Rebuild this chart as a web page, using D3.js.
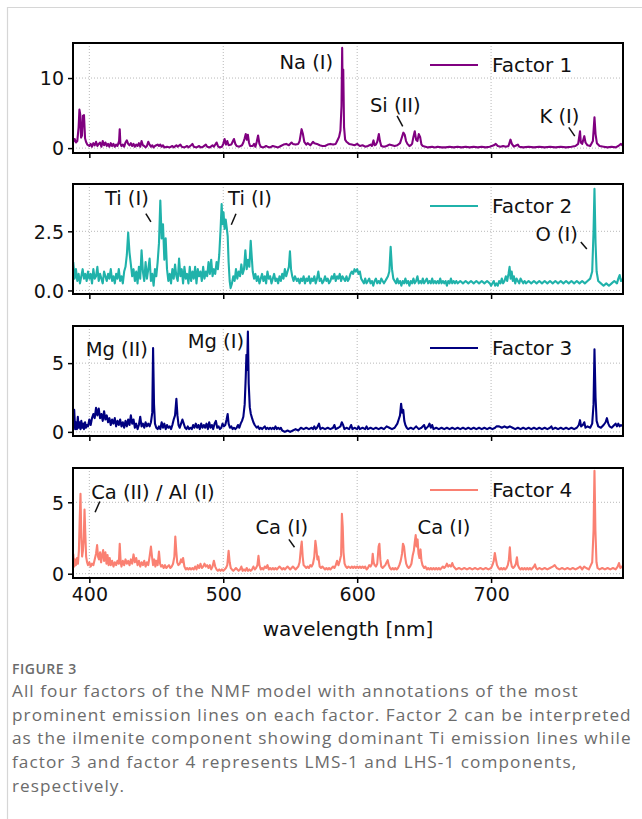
<!DOCTYPE html>
<html>
<head>
<meta charset="utf-8">
<title>NMF factors</title>
<script src="https://cdn.jsdelivr.net/npm/d3@7"></script>
<style>
  body { margin:0; background:#fff; }
  svg { display:block; }
  .tick text { font-family:"DejaVu Sans",sans-serif; font-size:19px; fill:#111; }
  .caption { font-family:"Open Sans",sans-serif; fill:#6b6b6b; }
</style>
</head>
<body>
<svg id="fig" width="642" height="819"></svg>
<script>
// wavelength range and tick marks (nm)
const wlRange = [387.8, 798.5];
const xTicks = [400, 500, 600, 700];

// factor spectra, [wavelength nm, intensity]
const factor1 = [[388,0.9],[389,1.3],[390,0.8],[391,1.0],[392,3.0],[392.6,5.5],[393.2,4.8],[393.8,1.5],[394.5,1.8],[395.2,4.6],[396,4.7],[396.8,1.4],[397.5,0.9],[398.5,0.5],[400,0.3],[401,0.6],[402,0.2],[403,0.7],[404,0.4],[405,0.9],[406,0.3],[407,0.6],[408,0.8],[409,0.2],[410,1.0],[411,0.4],[412,0.8],[413,0.3],[414,0.6],[415,0.2],[416,0.7],[417,0.3],[418,0.6],[419,0.2],[420,0.5],[421,0.3],[422.2,1.0],[422.7,2.7],[423.2,0.6],[424,0.3],[425,0.5],[426,0.2],[427,0.8],[428,1.1],[429,0.6],[430,0.4],[431,0.7],[432,0.3],[433,0.6],[434,0.2],[435,0.5],[436,0.3],[437,0.7],[438,0.2],[439,1.0],[440,0.4],[441,0.3],[442,0.1],[443,0.3],[444,0.9],[445,0.5],[446,0.2],[447,0.4],[448,0.1],[449,0.3],[450,0.4],[451,0.5],[452,0.3],[453,0.5],[454,0.2],[455,0.4],[456,0.1],[458,0.2],[460,0.1],[462,0.3],[463,0.1],[465,0.4],[466,0.2],[468,0.5],[469,0.2],[471,0.1],[473,0.3],[474,0.1],[476,0.4],[477,0.6],[478,0.2],[480,0.1],[482,0.3],[483,0.1],[485,0.2],[487,0.5],[488,0.2],[490,0.1],[492,0.4],[493,0.2],[495,0.8],[496,0.3],[497,0.1],[499,0.2],[500,0.6],[501,1.3],[502,0.5],[503,1.0],[504,0.4],[506,0.5],[507,0.9],[508,1.3],[509,0.6],[510,0.3],[512,0.2],[514,0.4],[515,0.8],[516,1.4],[516.8,2.0],[517.6,1.2],[518.4,1.9],[519.2,0.8],[520,0.3],[522,0.3],[523,0.6],[524,0.2],[525,0.9],[526,1.8],[527,0.6],[528,0.2],[530,0.1],[532,0.3],[533,0.2],[535,0.1],[537,0.3],[539,0.2],[541,0.1],[543,0.3],[545,0.5],[547,0.6],[549,0.4],[551,0.8],[552,0.6],[554,0.5],[556,0.6],[557,1.0],[558.5,2.7],[559.5,2.0],[560.5,0.9],[562,0.5],[563,0.7],[565,0.4],[567,0.9],[568,0.7],[570,0.6],[572,0.4],[574,0.3],[576,0.3],[578,0.5],[580,0.6],[582,0.5],[584,0.6],[585.5,1.2],[586.5,1.6],[587.5,2.5],[588.3,6],[588.8,14.3],[589.2,7],[589.6,11.2],[590.2,3],[591,1.2],[592,0.9],[594,0.6],[596,0.5],[598,0.4],[600,0.6],[602,0.3],[604,0.4],[606,0.2],[608,0.3],[610,0.5],[611,0.3],[612.2,1.1],[613,0.4],[614,0.5],[615,0.9],[616.2,2.0],[617,1.0],[618,0.3],[620,0.2],[622,0.3],[624,0.5],[626,0.4],[628,0.3],[630,0.4],[632,0.7],[633,1.3],[634.5,2.2],[635.5,1.9],[636.5,1.0],[637.5,0.6],[639,0.3],[640,0.4],[641,0.6],[642,1.6],[643,2.4],[644,1.2],[645,1.0],[646,2.0],[647,1.6],[648,0.5],[649,0.3],[651,0.2],[653,0.1],[656,0.2],[658,0.1],[660,0.2],[663,0.1],[666,0.1],[669,0.2],[672,0.1],[675,0.2],[678,0.1],[681,0.2],[684,0.1],[687,0.2],[690,0.1],[693,0.2],[696,0.1],[699,0.2],[702,0.4],[703.5,0.6],[705,0.3],[707,0.2],[709,0.3],[711,0.2],[713,0.3],[714.5,1.2],[715.5,0.6],[717,0.2],[719,0.4],[720,0.5],[721,0.2],[724,0.1],[728,0.2],[732,0.1],[736,0.2],[740,0.1],[744,0.2],[748,0.1],[752,0.2],[756,0.1],[760,0.2],[763,0.3],[765,0.6],[766.4,2.4],[767,0.8],[768,0.6],[769.6,1.7],[770.5,0.8],[772,0.4],[774,0.3],[776,1.0],[777.2,4.4],[778,2.0],[779,0.7],[781,0.3],[784,0.2],[787,0.1],[790,0.2],[793,0.1],[795,0.3],[797,0.6],[798.5,0.3]];

const factor2 = [[388,1.2],[389,0.5],[390,0.9],[391,0.4],[392,0.7],[393,0.3],[394,0.6],[395,0.9],[396,0.5],[397,0.7],[398,0.4],[399,0.8],[400,0.5],[401,0.7],[402,0.3],[403,0.9],[404,0.5],[405,0.6],[406,1.0],[407,0.4],[408,0.7],[409,0.5],[410,0.3],[411,0.8],[412,0.6],[413,0.4],[414,0.7],[415,0.5],[416,0.9],[417,0.4],[418,0.6],[419,0.3],[420,0.7],[421,0.5],[422,0.9],[423,0.4],[424,0.6],[425,0.3],[426,0.8],[427,1.0],[428,1.5],[429,2.45],[430,1.6],[431,1.1],[432,0.6],[433,0.9],[434,0.4],[435,0.8],[436,0.3],[437,1.0],[438,0.5],[439,1.7],[440,0.8],[441,0.4],[442,1.2],[443,0.5],[444,0.9],[445,1.35],[446,0.4],[447,0.7],[448,0.2],[449,0.9],[450,0.6],[451,1.2],[452,2.0],[453,3.8],[454,2.2],[455,2.8],[456,1.3],[457,2.2],[458,0.9],[459,0.4],[460,0.7],[461,0.3],[462,0.9],[463,0.5],[464,1.1],[465,0.6],[466,0.4],[467,1.35],[468,0.6],[469,0.9],[470,0.3],[471,1.0],[472,0.5],[473,0.7],[474,0.3],[475,1.0],[476,0.4],[477,0.8],[478,0.5],[479,1.0],[480,0.3],[481,0.9],[482,0.6],[483,0.8],[484,0.4],[485,1.0],[486,0.5],[487,0.8],[488,0.6],[489,1.2],[490,0.7],[491,1.3],[492,0.6],[493,0.9],[494,0.7],[495,1.2],[496,0.9],[497,1.5],[498,2.6],[498.8,3.65],[499.5,2.8],[500.2,3.3],[501,2.6],[501.8,3.0],[502.5,2.7],[503.3,2.3],[504,1.2],[504.8,0.4],[505.5,0.1],[506.5,0.3],[507.5,0.6],[508.5,0.4],[509.5,0.9],[510.5,0.5],[511.5,0.8],[512.5,0.6],[513.5,1.1],[514.5,0.7],[515.5,0.9],[516.5,1.7],[517.5,0.9],[518.5,1.3],[519.5,1.0],[520.5,2.1],[521.3,1.4],[522,0.8],[523,0.5],[524,0.7],[525,0.4],[526,0.6],[527,0.3],[528,0.5],[529,0.7],[530,0.4],[531,0.6],[532,0.3],[533,0.8],[534,0.5],[535,0.6],[536,0.3],[537,0.5],[538,0.7],[539,0.4],[540,0.5],[541,0.3],[542,0.6],[543,0.4],[544,0.7],[545,0.5],[546,0.9],[547,0.6],[548,0.8],[549,1.0],[549.8,1.65],[550.6,0.9],[551.5,0.6],[552.5,0.4],[553.5,0.6],[555,0.4],[556,0.5],[557,0.3],[558,0.5],[559,0.4],[560,0.6],[561,0.3],[562,0.5],[563,0.4],[564,0.6],[565,0.3],[566,0.5],[567,0.4],[568,0.6],[569,0.3],[570,0.5],[571,0.8],[572,0.4],[573,0.5],[574,0.3],[575,0.4],[576,0.6],[577,0.4],[578,0.5],[579,0.3],[580,0.4],[581,0.6],[582,0.5],[583,0.7],[584,0.4],[585,0.6],[586,0.5],[587,0.7],[588,0.4],[589,0.6],[590,0.5],[591,0.4],[592,0.6],[593,0.4],[594,0.5],[595,0.7],[596,0.8],[597,0.7],[598,0.9],[599,0.8],[600,0.9],[601,0.7],[602,0.8],[603,0.5],[604,0.4],[605,0.3],[606,0.5],[607,0.3],[608,0.4],[609,0.5],[610,0.3],[611,0.4],[612,0.2],[613,0.4],[614,0.5],[615,0.3],[616,0.4],[617,0.3],[618,0.5],[619,0.4],[620,0.3],[621,0.4],[622,0.5],[623,0.6],[624,0.8],[625,1.85],[626,0.9],[627,0.5],[628,0.4],[629,0.3],[630,0.5],[631,0.3],[632,0.4],[633,0.2],[634,0.4],[635,0.3],[636,0.5],[637,0.3],[638,0.4],[639,0.2],[640,0.4],[641,0.3],[642,0.5],[643,0.3],[644,0.4],[645,0.6],[646,0.3],[647,0.4],[648,0.3],[649,0.5],[650,0.3],[651,0.4],[652,0.5],[653,0.3],[654,0.4],[655,0.3],[656,0.5],[657,0.3],[658,0.4],[659,0.3],[660,0.4],[661,0.3],[662,0.5],[663,0.3],[664,0.4],[665,0.3],[666,0.4],[667,0.2],[668,0.4],[669,0.3],[670,0.5],[671,0.3],[672,0.4],[673,0.3],[674,0.4],[675,0.3],[677,0.4],[679,0.3],[681,0.4],[683,0.3],[685,0.4],[687,0.3],[689,0.4],[691,0.3],[693,0.4],[695,0.3],[697,0.4],[699,0.3],[700,0.2],[701,0.3],[702,0.4],[703,0.2],[704,0.3],[705,0.2],[706,0.4],[707,0.3],[708,0.5],[709,0.3],[710,0.4],[711,0.6],[712,0.4],[713,0.7],[713.8,1.0],[714.6,0.5],[715.4,0.8],[716.2,0.4],[717,0.6],[718,0.3],[719,0.5],[720,0.4],[721,0.3],[722,0.5],[723,0.4],[724,0.3],[725,0.4],[726,0.3],[728,0.4],[730,0.3],[732,0.4],[734,0.3],[736,0.4],[738,0.3],[740,0.4],[742,0.3],[744,0.4],[746,0.3],[748,0.4],[750,0.3],[752,0.4],[754,0.3],[756,0.4],[758,0.3],[760,0.4],[762,0.3],[764,0.4],[766,0.3],[768,0.4],[770,0.3],[772,0.4],[774,0.5],[775.5,0.8],[776.5,2.5],[777.2,4.3],[778,2.0],[778.8,0.8],[780,0.4],[782,0.3],[784,0.2],[786,0.3],[788,0.2],[790,0.3],[792,0.4],[794,0.3],[795,0.5],[796,0.65],[797,0.4],[798.5,0.5]];

const factor3 = [[388,0.3],[388.7,1.6],[389.4,0.2],[390,0.7],[390.7,0.2],[391.4,1.1],[392,0.3],[392.7,0.7],[393.4,0.2],[394,0.8],[394.7,0.3],[395.4,0.6],[396,0.2],[396.8,0.7],[397.5,0.3],[398.2,0.5],[399,0.4],[400,0.9],[401,0.5],[402,1.0],[403,1.3],[404,1.0],[405,1.75],[406,1.2],[407,1.7],[408,1.0],[409,1.3],[410,0.8],[411,1.5],[412,0.9],[413,1.2],[414,0.7],[415,1.0],[416,0.5],[417,0.9],[418,0.6],[419,1.0],[420,0.4],[421,0.8],[422,0.5],[423,0.9],[424,0.4],[425,0.7],[426,0.3],[427,0.8],[428,0.4],[429,0.9],[430,0.5],[431,1.2],[432,0.6],[433,0.9],[434,0.3],[435,0.6],[436,0.2],[437,0.5],[438,1.1],[439,0.4],[440,0.6],[441,0.3],[442,0.7],[443,0.4],[444,0.6],[445,0.4],[446,0.7],[447,1.4],[447.6,6.1],[448.3,2.0],[449,0.6],[450,0.3],[451,0.2],[452,0.4],[453,0.2],[454,0.7],[455,0.3],[456,0.6],[457,0.2],[458,0.5],[459,0.3],[460,0.4],[461,0.2],[462,0.5],[463,0.9],[464,1.2],[465,2.4],[465.8,1.2],[466.6,0.5],[467.5,0.3],[468.5,0.6],[469.5,0.9],[470.5,0.6],[471.5,0.3],[472.5,0.2],[473.5,0.4],[474.5,0.2],[475.5,0.3],[476.5,0.2],[477.5,0.5],[478.5,0.3],[479.5,0.6],[480.5,0.3],[481.5,0.5],[482.5,0.2],[483.5,0.6],[484.5,0.3],[485.5,0.5],[486.5,0.3],[487.5,0.6],[488.5,0.2],[489.5,0.7],[490.5,0.3],[491.5,0.5],[492.5,0.2],[493.5,0.6],[494.5,0.8],[495.5,0.3],[496.5,0.4],[497.5,0.2],[498.5,0.3],[499.5,0.6],[500.5,0.4],[501.5,0.5],[502.5,0.9],[503.3,1.3],[504,0.6],[505,0.3],[506,0.4],[507,0.2],[508,0.3],[509,0.2],[510,0.3],[511,0.5],[512,0.3],[513,0.6],[514,0.8],[515,1.1],[516,2.0],[516.8,4.0],[517.3,5.6],[517.8,4.5],[518.4,7.3],[519,3.5],[519.8,1.8],[520.6,1.3],[521.5,1.0],[522.5,0.7],[523.5,0.5],[525,0.3],[526,0.4],[527,0.2],[528,0.3],[529,0.2],[530,0.3],[531,0.4],[532,0.2],[533,0.3],[534,0.2],[535,0.3],[536,0.2],[537,0.3],[538,0.2],[539,0.4],[540,0.2],[541,0.3],[542,0.2],[543,0.3],[544,0.1],[546,0.0],[548,0.1],[550,0.0],[552,0.1],[554,0.2],[556,0.1],[558,0.3],[560,0.2],[562,0.3],[564,0.2],[566,0.3],[567,0.2],[568,0.4],[569,0.2],[570,0.3],[571.5,0.6],[572.5,0.2],[574,0.3],[576,0.2],[578,0.3],[580,0.2],[582,0.3],[583,0.5],[584,0.2],[586,0.3],[587.5,0.4],[588.5,0.7],[589.5,0.5],[590.5,0.2],[592,0.3],[594,0.2],[595.5,0.5],[596.5,0.2],[598,0.3],[600,0.2],[601,0.4],[602,0.2],[604,0.3],[606,0.2],[607,0.4],[608,0.2],[610,0.3],[612,0.2],[614,0.3],[616,0.2],[618,0.3],[620,0.2],[622,0.4],[624,0.3],[626,0.2],[628,0.3],[630,0.6],[631,0.9],[632,1.2],[632.8,2.05],[633.6,1.4],[634.4,1.6],[635.2,0.8],[636,0.5],[637,0.3],[638,0.2],[640,0.3],[642,0.2],[644,0.4],[646,0.2],[648,0.3],[650,0.5],[651,0.2],[653,0.4],[654,0.6],[655,0.3],[656,0.5],[657,0.2],[659,0.3],[661,0.2],[663,0.3],[665,0.2],[667,0.3],[669,0.2],[671,0.3],[673,0.2],[675,0.3],[677,0.2],[679,0.3],[681,0.2],[683,0.3],[685,0.2],[687,0.3],[689,0.2],[691,0.3],[693,0.2],[695,0.3],[697,0.2],[699,0.3],[701,0.2],[703,0.3],[704,0.4],[706,0.4],[708,0.3],[710,0.4],[712,0.3],[714,0.4],[716,0.3],[718,0.2],[720,0.3],[722,0.2],[724,0.3],[726,0.2],[728,0.3],[730,0.2],[732,0.3],[734,0.2],[736,0.3],[738,0.2],[740,0.3],[742,0.2],[744,0.3],[745,0.4],[746,0.2],[748,0.3],[750,0.2],[752,0.3],[754,0.2],[756,0.3],[758,0.2],[760,0.3],[762,0.2],[764,0.3],[765.5,0.5],[766.4,0.85],[767.2,0.4],[768.5,0.5],[769.6,0.7],[770.5,0.3],[772,0.4],[774,0.3],[775.5,0.6],[776.5,2.0],[777.2,6.0],[778,2.5],[778.8,0.8],[780,0.4],[782,0.3],[784,0.5],[785.5,0.7],[786.5,1.0],[787.5,0.6],[788.5,0.4],[790,0.3],[792,0.5],[793,0.6],[794,0.4],[795,0.6],[796,0.4],[797,0.5],[798.5,0.4]];

const factor4 = [[388,1.4],[388.7,0.5],[389.4,1.0],[390,0.6],[390.8,1.1],[391.5,0.7],[392.2,1.6],[392.8,3.8],[393.4,5.6],[394,2.6],[394.6,1.2],[395.2,1.6],[395.8,2.4],[396.4,4.5],[397,2.8],[397.6,1.2],[398.3,0.8],[399,0.6],[400,0.8],[401,0.5],[402,0.7],[403,0.6],[404,1.0],[405,1.4],[405.8,2.0],[406.5,1.2],[407.2,1.0],[408,1.5],[408.8,0.8],[409.5,1.3],[410.3,1.65],[411,0.9],[412,1.5],[412.8,0.7],[413.6,1.3],[414.4,0.6],[415.2,1.1],[416,0.6],[417,0.9],[418,0.5],[419,0.8],[420,0.6],[421,0.9],[422,0.7],[422.7,2.1],[423.4,0.8],[424,0.5],[425,0.9],[426,0.6],[427,1.0],[428,0.7],[429,0.9],[430,0.6],[431,1.0],[432,0.7],[433,1.35],[434,0.8],[435,1.1],[436,0.6],[437,0.9],[438,0.5],[439,0.8],[440,0.6],[441,0.9],[442,0.5],[443,0.8],[444,0.6],[445,1.2],[446,1.9],[446.8,1.2],[447.6,0.6],[448.5,1.0],[449.3,0.5],[450,0.9],[451,0.6],[452,1.55],[452.8,0.7],[453.6,0.5],[454.5,0.6],[455.5,0.4],[456.5,0.6],[457.5,0.4],[458.5,0.5],[459.5,0.6],[460.5,0.4],[461.5,0.5],[462.5,0.7],[463.5,1.2],[464.2,2.6],[464.9,1.6],[465.6,0.8],[466.5,0.6],[467.5,0.7],[468.5,1.0],[469.3,0.8],[470,1.1],[471,0.5],[472,0.3],[473,0.4],[474,0.3],[475,0.4],[476,0.3],[477,0.4],[478,0.3],[479,0.5],[480,0.3],[481,0.6],[482,0.4],[483,0.7],[484,0.4],[485,0.5],[486,0.7],[487,0.5],[488,0.6],[489,0.4],[490,0.6],[491,0.3],[492,0.5],[493,0.9],[494,0.5],[495,0.3],[496,0.2],[497,0.3],[498,0.2],[499,0.3],[500,0.2],[501,0.3],[502,0.4],[503,0.6],[504,1.6],[504.8,0.8],[505.6,0.4],[506.5,0.3],[507.5,0.2],[508.5,0.3],[509.5,0.4],[510.5,0.3],[511.5,0.2],[512.5,0.3],[513.5,0.5],[514.5,0.2],[515.5,0.3],[516.5,0.2],[517.5,0.4],[518.5,0.2],[519.5,0.3],[520.5,0.2],[521.5,0.3],[522.5,0.5],[523.5,0.3],[524.5,0.4],[525.5,0.6],[526.3,1.25],[527,0.6],[528,0.3],[529,0.4],[530,0.3],[531,0.5],[532,0.4],[533,0.6],[534,0.3],[535,0.4],[536,0.3],[537,0.4],[538,0.3],[539,0.4],[540,0.3],[541,0.4],[542,0.5],[543,0.4],[544,0.3],[545,0.4],[546,0.3],[547,0.4],[548,0.5],[549,0.4],[550,0.3],[551,0.4],[552,0.5],[553,0.4],[554,0.3],[555,0.4],[556,0.5],[557,0.8],[558,1.8],[558.6,2.25],[559.3,1.2],[560,0.6],[561,0.5],[562,0.4],[563,0.5],[564,0.4],[565,0.6],[566,0.5],[567,0.7],[568,1.2],[568.8,2.3],[569.5,1.8],[570.3,1.0],[571,1.2],[572,0.5],[573,0.4],[574,0.5],[575,0.4],[576,0.3],[577,0.4],[578,0.3],[579,0.4],[580,0.3],[581,0.4],[582,0.5],[583,0.4],[584,0.6],[585,0.9],[586,0.6],[587,0.9],[588,1.3],[588.6,4.2],[589.2,3.3],[589.8,1.5],[590.6,0.7],[591.5,0.5],[592.5,0.4],[593.5,0.5],[595,0.4],[596,0.5],[597,0.4],[598,0.5],[599,0.4],[600,0.5],[601,0.4],[602,0.5],[603,0.4],[604,0.5],[605,0.4],[606,0.5],[607,0.3],[608,0.4],[609,0.6],[610,0.5],[611,0.7],[611.6,1.4],[612.3,0.8],[613,0.6],[614,0.5],[615,0.7],[616,1.9],[616.6,2.1],[617.3,1.0],[618,0.5],[619,0.4],[620,0.5],[621,0.6],[622,0.8],[622.8,0.95],[623.6,0.6],[624.5,0.4],[625.5,0.3],[626.5,0.4],[627.5,0.3],[628.5,0.4],[629.5,0.3],[630.5,0.4],[631.5,0.6],[632.5,0.9],[633.5,1.4],[634.2,2.1],[635,1.9],[635.8,1.2],[636.6,0.7],[637.5,0.5],[638.5,0.4],[639.5,0.5],[640.5,0.7],[641.5,1.3],[642.3,1.6],[643,2.2],[643.7,2.7],[644.4,1.9],[645.1,2.4],[645.8,1.4],[646.5,1.1],[647.3,1.7],[648,0.9],[648.8,0.6],[650,0.4],[651,0.5],[652,0.3],[653,0.4],[654,0.3],[655,0.4],[656,0.3],[657,0.4],[658,0.3],[659,0.4],[660,0.3],[661,0.4],[662,0.3],[663,0.4],[664,0.5],[665,0.4],[666,0.5],[667,0.7],[668,0.5],[669,0.6],[670,0.5],[671,0.75],[672,0.5],[673,0.4],[674,0.3],[676,0.4],[678,0.3],[680,0.4],[682,0.3],[684,0.4],[686,0.3],[688,0.4],[690,0.3],[692,0.4],[694,0.3],[696,0.4],[698,0.3],[700,0.4],[701,0.6],[702,0.9],[702.8,1.45],[703.6,1.0],[704.4,0.6],[705.5,0.4],[706.5,0.3],[707.5,0.4],[708.5,0.3],[709.5,0.4],[710.5,0.3],[711.5,0.4],[712.5,0.6],[713.3,1.0],[714,1.85],[714.7,0.9],[715.5,0.5],[716.5,0.4],[717.5,0.5],[718.5,0.7],[719.3,1.15],[720,0.6],[721,0.4],[722,0.3],[723,0.4],[724,0.3],[725,0.4],[726,0.3],[727,0.4],[728,0.3],[729,0.4],[730,0.3],[731,0.4],[732,0.5],[732.8,0.65],[733.6,0.4],[734.5,0.3],[736,0.4],[738,0.3],[740,0.4],[742,0.3],[744,0.4],[746,0.5],[747.5,0.6],[749,0.4],[751,0.3],[753,0.4],[755,0.3],[757,0.4],[759,0.3],[761,0.4],[763,0.3],[765,0.4],[766.5,0.5],[768,0.3],[769.5,0.5],[771,0.4],[773,0.3],[774.5,0.6],[775.5,0.8],[776.5,3.0],[777.2,7.2],[777.9,3.0],[778.7,0.8],[779.5,0.4],[781,0.3],[783,0.4],[785,0.3],[787,0.4],[789,0.3],[791,0.4],[793,0.3],[794.5,0.5],[795.5,0.75],[796.5,0.4],[797.5,0.5],[798.5,0.4]];

const series = [factor1, factor2, factor3, factor4];
const names = ["Factor 1", "Factor 2", "Factor 3", "Factor 4"];
const colors = ["#800080", "#20b2aa", "#000080", "#fa8072"];
const yDomains = [[-0.7, 15.0], [-0.15, 4.5], [-0.3, 7.7], [-0.3, 7.4]];
const yTicks = [[0, 10], [0, 2.5], [0, 5], [0, 5]];
const yTickFmt = [d3.format("d"), d3.format(".1f"), d3.format("d"), d3.format("d")];

// line annotations: label, text anchor (wl, value), optional pointer segment
const notes = [
  [{t:"Na (I)", x:562, y:11.3},
   {t:"Si (II)", x:628.5, y:5.2, seg:[[629.8,4.6],[634,3.1]]},
   {t:"K (I)", x:751, y:3.6, seg:[[758,2.95],[762.5,1.7]]}],
  [{t:"Ti (I)", x:428, y:3.6, seg:[[442.2,3.25],[446,2.9]]},
   {t:"Ti (I)", x:520, y:3.6, seg:[[506,2.78],[509.5,3.24]]},
   {t:"O (I)", x:749, y:2.1, seg:[[767,2.05],[771.5,1.75]]}],
  [{t:"Mg (II)", x:420.5, y:5.55},
   {t:"Mg (I)", x:494.5, y:6.1}],
  [{t:"Ca (II) / Al (I)", x:447.5, y:5.2, seg:[[404.3,4.3],[407.8,5.05]]},
   {t:"Ca (I)", x:543.7, y:2.8, seg:[[549,2.4],[553.2,1.85]]},
   {t:"Ca (I)", x:664.8, y:2.8}]
];

const captionHead = "FIGURE 3";
const captionLines = [
  "All four factors of the NMF model with annotations of the most",
  "prominent emission lines on each factor. Factor 2 can be interpreted",
  "as the ilmenite component showing dominant Ti emission lines while",
  "factor 3 and factor 4 represents LMS-1 and LHS-1 components,",
  "respectively."
];

const svg = d3.select("#fig");
const left = 73, right = 623, ph = 110;
const tops = [43, 184, 326, 468];

// page frame
svg.append("path").attr("d", "M7.5,819V7.5H642").attr("fill", "none")
  .attr("stroke", "#d6d6d6").attr("stroke-width", 1.2);

const x = d3.scaleLinear().domain(wlRange).range([left, right]);

series.forEach((data, i) => {
  const top = tops[i], bottom = top + ph;
  const y = d3.scaleLinear().domain(yDomains[i]).range([bottom, top]);
  const g = svg.append("g");

  g.append("clipPath").attr("id", "clip" + i).append("rect")
    .attr("x", left).attr("y", top).attr("width", right - left).attr("height", ph);

  // grid
  g.selectAll(".gx").data(xTicks).join("line")
    .attr("x1", d => x(d)).attr("x2", d => x(d)).attr("y1", top).attr("y2", bottom)
    .attr("stroke", "#b8b8b8").attr("stroke-width", 1).attr("stroke-dasharray", "1,2");
  g.selectAll(".gy").data(yTicks[i]).join("line")
    .attr("x1", left).attr("x2", right).attr("y1", d => y(d)).attr("y2", d => y(d))
    .attr("stroke", "#b8b8b8").attr("stroke-width", 1).attr("stroke-dasharray", "1,2");

  const line = d3.line().x(d => x(d[0])).y(d => y(d[1]));
  g.append("path").datum(data).attr("d", line).attr("clip-path", "url(#clip" + i + ")")
    .attr("fill", "none").attr("stroke", colors[i]).attr("stroke-width", 2.1)
    .attr("stroke-linejoin", "round");

  // axes
  const ya = g.append("g").attr("transform", `translate(${left},0)`)
    .call(d3.axisLeft(y).tickValues(yTicks[i]).tickFormat(yTickFmt[i]).tickSize(5).tickPadding(4));
  const xa = g.append("g").attr("transform", `translate(0,${bottom})`)
    .call(d3.axisBottom(x).tickValues(xTicks).tickSize(5).tickPadding(5)
      .tickFormat(i === 3 ? d3.format("d") : ""));
  [ya, xa].forEach(a => {
    a.select(".domain").remove();
    a.selectAll(".tick line").attr("stroke", "#000").attr("stroke-width", 1.5);
  });
  ya.selectAll(".tick text").attr("dy", "0.36em");

  g.append("rect").attr("x", left).attr("y", top).attr("width", right - left).attr("height", ph)
    .attr("fill", "none").attr("stroke", "#000").attr("stroke-width", 2);

  // legend
  g.append("line").attr("x1", right - 193).attr("x2", right - 145)
    .attr("y1", top + 22).attr("y2", top + 22).attr("stroke", colors[i]).attr("stroke-width", 2);
  g.append("text").attr("x", right - 131).attr("y", top + 22).attr("dy", "0.36em")
    .attr("font-family", "DejaVu Sans, sans-serif").attr("font-size", 20).attr("fill", "#111")
    .text(names[i]);

  // annotations
  notes[i].forEach(n => {
    g.append("text").attr("x", x(n.x)).attr("y", y(n.y)).attr("text-anchor", "middle")
      .attr("font-family", "DejaVu Sans, sans-serif").attr("font-size", 19.5).attr("fill", "#111")
      .text(n.t);
    if (n.seg) {
      g.append("line").attr("x1", x(n.seg[0][0])).attr("y1", y(n.seg[0][1]))
        .attr("x2", x(n.seg[1][0])).attr("y2", y(n.seg[1][1]))
        .attr("stroke", "#111").attr("stroke-width", 1.5);
    }
  });
});

svg.append("text").attr("x", (left + right) / 2).attr("y", 636).attr("text-anchor", "middle")
  .attr("font-family", "DejaVu Sans, sans-serif").attr("font-size", 20).attr("fill", "#111")
  .text("wavelength [nm]");

// caption
svg.append("text").attr("class", "caption").attr("x", 12).attr("y", 674)
  .attr("font-size", 14).attr("font-weight", 600).attr("letter-spacing", 0.5)
  .attr("fill", "#5a5a5a").text(captionHead);
svg.append("g").selectAll("text").data(captionLines).join("text")
  .attr("class", "caption").attr("x", 12).attr("y", (d, i) => 697 + i * 23.7)
  .attr("font-size", 17.2).attr("letter-spacing", 1.05).text(d => d);
</script>
</body>
</html>
